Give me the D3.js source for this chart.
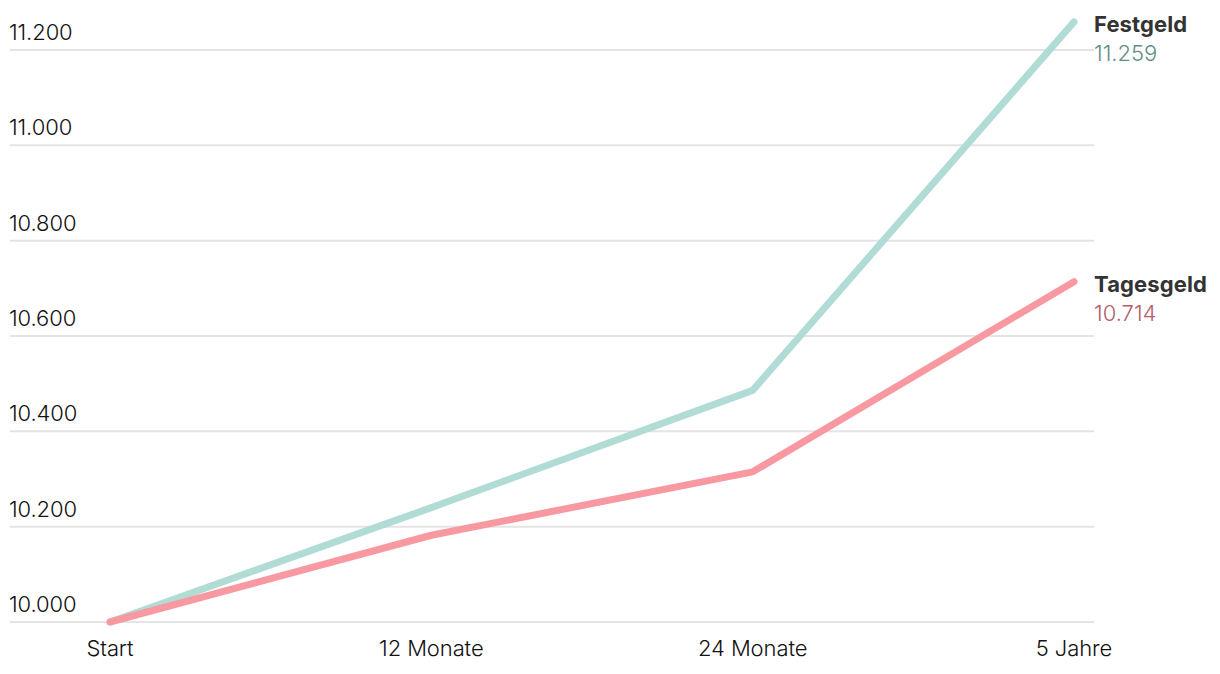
<!DOCTYPE html>
<html><head><meta charset="utf-8">
<script src="https://cdn.jsdelivr.net/npm/d3@7"></script>
<style>
html,body{margin:0;padding:0;background:#fff;}
svg text{font-family:Inter,"Noto Sans",sans-serif;}
</style></head>
<body><svg id="c" width="1220" height="674"></svg>
<script>
const categories = ["Start", "12 Monate", "24 Monate", "5 Jahre"];
const festgeld = [10000, 10240, 10486, 11259];
const tagesgeld = [10000, 10182, 10315, 10714];
const yTicks = [10000, 10200, 10400, 10600, 10800, 11000, 11200];
const seriesNames = ["Festgeld", "Tagesgeld"];

const svg = d3.select("#c");
const x = d3.scalePoint().domain(categories).range([110, 1074]);
const y = d3.scaleLinear().domain([10000, 11200]).range([622, 50]);
const fmt = v => d3.format(",")(v).replace(/,/g, ".");

const grid = svg.append("g");
grid.selectAll("line").data(yTicks).join("line")
  .attr("x1", 10).attr("x2", 1094)
  .attr("y1", d => y(d)).attr("y2", d => y(d))
  .attr("stroke", "#e4e4e4").attr("stroke-width", 2);
grid.selectAll("text").data(yTicks).join("text")
  .attr("x", 9).attr("y", d => y(d) - 10)
  .attr("font-size", 22).attr("letter-spacing", "-0.1").attr("fill", "#111")
  .attr("font-weight", 350)
  .text(d => fmt(d));

svg.append("g").selectAll("text").data(categories).join("text")
  .attr("x", d => x(d)).attr("y", 656).attr("text-anchor", "middle")
  .attr("font-size", 22).attr("letter-spacing", "-0.1").attr("fill", "#111")
  .attr("font-weight", 350)
  .text(d => d);

const line = d3.line().x((d, i) => x(categories[i])).y(d => y(d));
const series = [
  {name: seriesNames[0], values: festgeld, color: "#b1dcd6", label: "#5e8f86"},
  {name: seriesNames[1], values: tagesgeld, color: "#f899a2", label: "#b45e6d"}
];
series.forEach(s => {
  svg.append("path").attr("d", line(s.values)).attr("fill", "none")
    .attr("stroke", s.color).attr("stroke-width", 7)
    .attr("stroke-linecap", "round").attr("stroke-linejoin", "round");
});
series.forEach(s => {
  const last = s.values[s.values.length - 1];
  const yy = y(last);
  svg.append("text").attr("x", 1094).attr("y", yy + 10)
    .attr("font-size", 22).attr("font-weight", 700).attr("letter-spacing", "0.1")
    .attr("fill", "#333").text(s.name);
  svg.append("text").attr("x", 1094).attr("y", yy + 39)
    .attr("font-size", 22).attr("font-weight", 300).attr("letter-spacing", "0")
    .attr("fill", s.label).text(fmt(last));
});
</script></body></html>
